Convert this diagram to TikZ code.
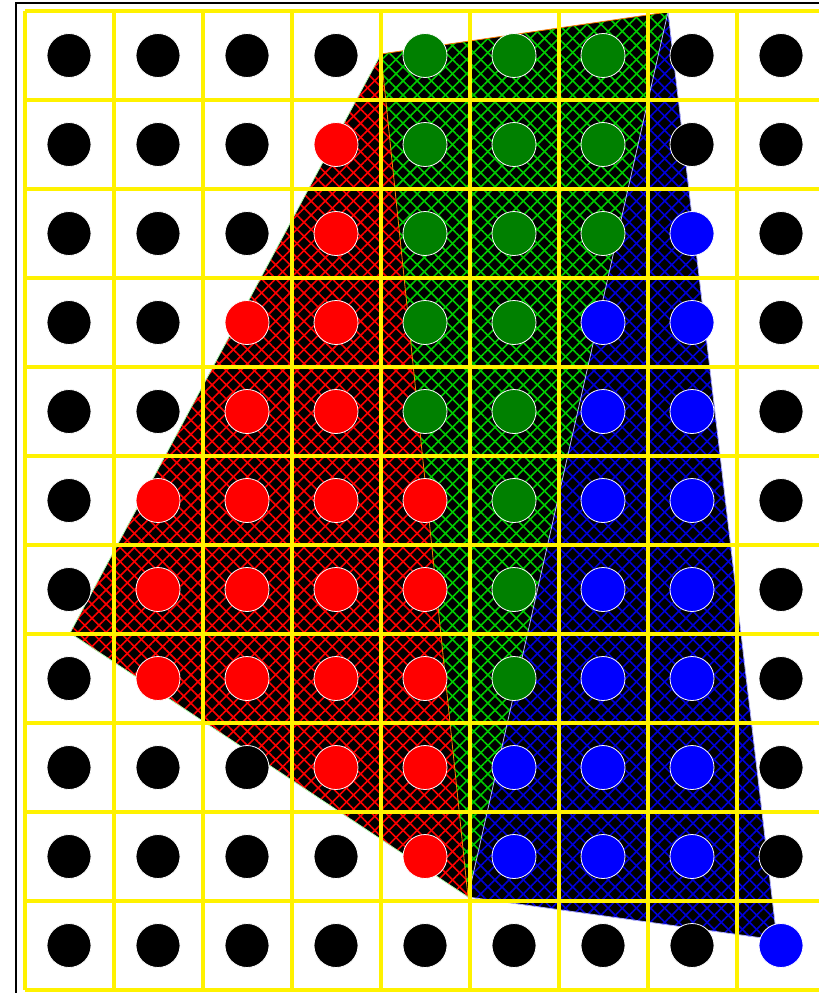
\documentclass[tikz,border=0pt]{standalone}
\usepackage{tikz}
\usetikzlibrary{patterns.meta}
\definecolor{dotg}{RGB}{0,128,0}
\colorlet{k}{black}
\colorlet{r}{red}
\colorlet{g}{dotg}
\colorlet{b}{blue}
\tikzset{
  gridln/.style  = {draw=yellow, line width=4pt},
  frm/.style     = {draw=black, line width=1.5pt},
  dot/.style     = {circle, draw=white, line width=0.8pt, minimum size=44pt,
                    inner sep=0pt},
  hatchA/.style  = {pattern={Lines[angle=45,distance=10pt,line width=1.6pt]}},
  hatchB/.style  = {pattern={Lines[angle=-45,distance=10pt,line width=1.6pt]}},
  edge/.style    = {line width=0.8pt},
}

\begin{document}
\begin{tikzpicture}[x=1pt,y=-1pt]
  \useasboundingbox (0,0) rectangle (819,993);
  % frame
  \draw[frm] (16,1000) -- (16,3) -- (830,3);
  % corners of the three triangles
  \coordinate (tl) at (381,54);
  \coordinate (tr) at (668,12);
  \coordinate (lf) at (70,633);
  \coordinate (bm) at (468,897);
  \coordinate (br) at (777,940);
  % red part
  \fill[black] (tl)--(lf)--(bm)--cycle;
  \fill[hatchA,pattern color=red] (tl)--(lf)--(bm)--cycle;
  \fill[hatchB,pattern color=red] (tl)--(lf)--(bm)--cycle;
  % green part
  \fill[black] (tl)--(tr)--(bm)--cycle;
  \fill[hatchA,pattern color=green!80!black] (tl)--(tr)--(bm)--cycle;
  \fill[hatchB,pattern color=green!80!black] (tl)--(tr)--(bm)--cycle;
  % blue part
  \fill[black] (tr)--(br)--(bm)--cycle;
  \fill[hatchA,pattern color=blue!85!black] (tr)--(br)--(bm)--cycle;
  \fill[hatchB,pattern color=blue!85!black] (tr)--(br)--(bm)--cycle;
  % outlines
  \draw[edge,green!30] (tl)--(lf)--(bm);
  \draw[edge,orange] (tl)--(tr) (bm)--(tl);
  \draw[edge,blue!30] (tr)--(br)--(bm)--cycle;
  % grid
  \foreach \i in {0,...,9}
    \draw[gridln] (24.5+89*\i,11) -- (24.5+89*\i,990);
  \foreach \j in {0,...,11}
    \draw[gridln] (24.5,11+89*\j) -- (830,11+89*\j);
  % dots
  \foreach \row [count=\j from 0] in {
      {k,k,k,k,g,g,g,k,k},
      {k,k,k,r,g,g,g,k,k},
      {k,k,k,r,g,g,g,b,k},
      {k,k,r,r,g,g,b,b,k},
      {k,k,r,r,g,g,b,b,k},
      {k,r,r,r,r,g,b,b,k},
      {k,r,r,r,r,g,b,b,k},
      {k,r,r,r,r,g,b,b,k},
      {k,k,k,r,r,b,b,b,k},
      {k,k,k,k,r,b,b,b,k},
      {k,k,k,k,k,k,k,k,b}}
    \foreach \c [count=\i from 0] in \row
      \node[dot,fill=\c] (d\i-\j) at (69+89*\i,55.5+89*\j) {};
\end{tikzpicture}
\end{document}
